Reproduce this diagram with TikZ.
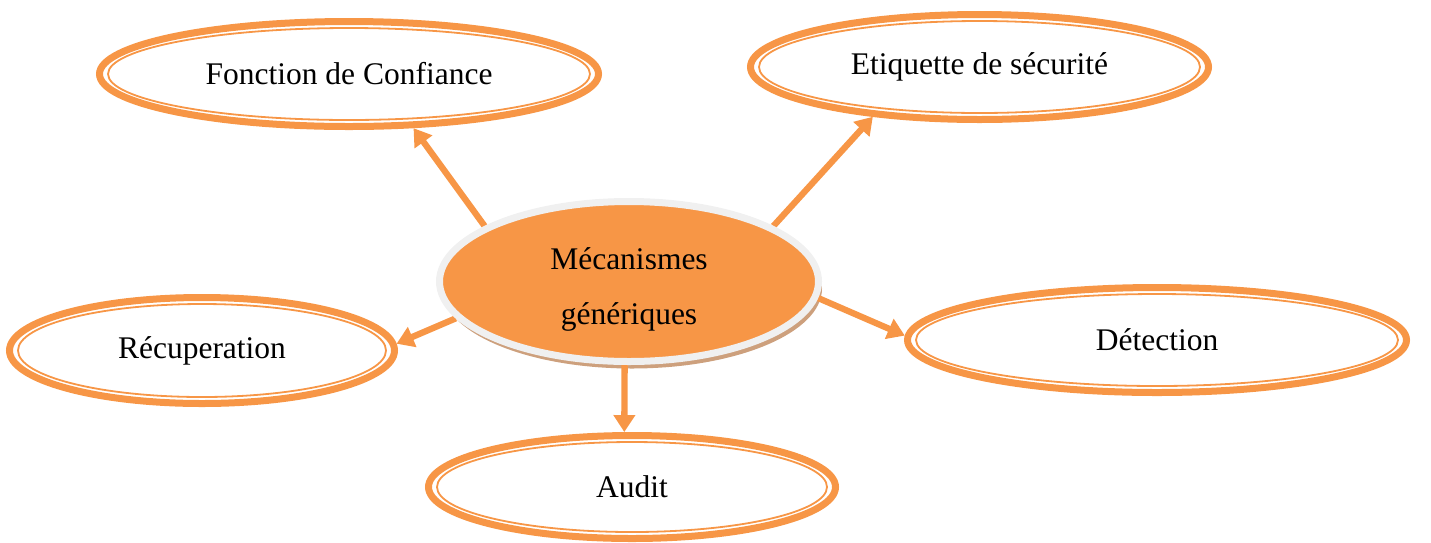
\documentclass[tikz,border=0pt]{standalone}
\usepackage{fontspec}
\setmainfont{Liberation Serif}
\usetikzlibrary{shapes.geometric,arrows.meta}
\definecolor{accent}{RGB}{247,150,70}
\definecolor{ringgray}{RGB}{240,240,240}
\definecolor{shadowtan}{RGB}{205,160,125}
\pgfdeclarelayer{shadowlayer}
\pgfdeclarelayer{frontlayer}
\pgfsetlayers{shadowlayer,main,frontlayer}
\begin{document}
\begin{tikzpicture}[x=1pt,y=-1pt,
  bubble/.style 2 args={ellipse, draw=accent, line width=7pt, inner sep=0pt,
    minimum width=#1, minimum height=#2, font=\fontsize{31.5}{38}\selectfont},
  innerring/.style={draw=accent, line width=1.8pt},
  link/.style={draw=accent, line width=6.3pt, -{Triangle[length=17pt,width=21pt]}},
  hub/.style={ellipse, fill=accent, draw=ringgray, line width=7pt,
    minimum width=379pt, minimum height=160pt, inner sep=0pt},
  hubtext/.style={align=center, inner sep=0pt, font=\fontsize{31.5}{55}\selectfont}]

\useasboundingbox (0,0) rectangle (1431,542);

% central hub with its drop shadow
\begin{pgfonlayer}{shadowlayer}
  \fill[shadowtan] (632,288.5) ellipse [x radius=190pt, y radius=80pt];
\end{pgfonlayer}
\begin{pgfonlayer}{frontlayer}
  \node[hub] (hub) at (629,281.5) {};
  \node[hubtext] (hubtext) at (629,289) {Mécanismes\\génériques};
\end{pgfonlayer}

% surrounding mechanisms
\node[bubble={499pt}{105pt}] (conf) at (349,74) {Fonction de Confiance};
\draw[innerring] (conf.center) ellipse [x radius=241pt, y radius=46pt];

\node[bubble={458pt}{105pt}] (etiq) at (979.5,67) {Etiquette de sécurité};
\draw[innerring] (etiq.center) ellipse [x radius=220.5pt, y radius=46pt];

\node[bubble={385pt}{106pt}] (recup) at (202,350.5) {Récuperation};
\draw[innerring] (recup.center) ellipse [x radius=184pt, y radius=46.5pt];

\node[bubble={499pt}{105pt}] (detect) at (1157,340) {Détection};
\draw[innerring] (detect.center) ellipse [x radius=241pt, y radius=46pt];

\node[bubble={407pt}{103pt}] (audit) at (632,487) {Audit};
\draw[innerring] (audit.center) ellipse [x radius=195pt, y radius=45pt];

% connectors from the hub
\draw[link] (hub.159.5) -- (conf.-40);
\draw[link] (hub.21) -- (etiq.-155);
\draw[link] (hub.-168.6) -- (recup.2.2);
\draw[link] (hub.-5.5) -- (detect.179.3);
\draw[link] (hub.-93) -- (audit.98.8);
\end{tikzpicture}
\end{document}
